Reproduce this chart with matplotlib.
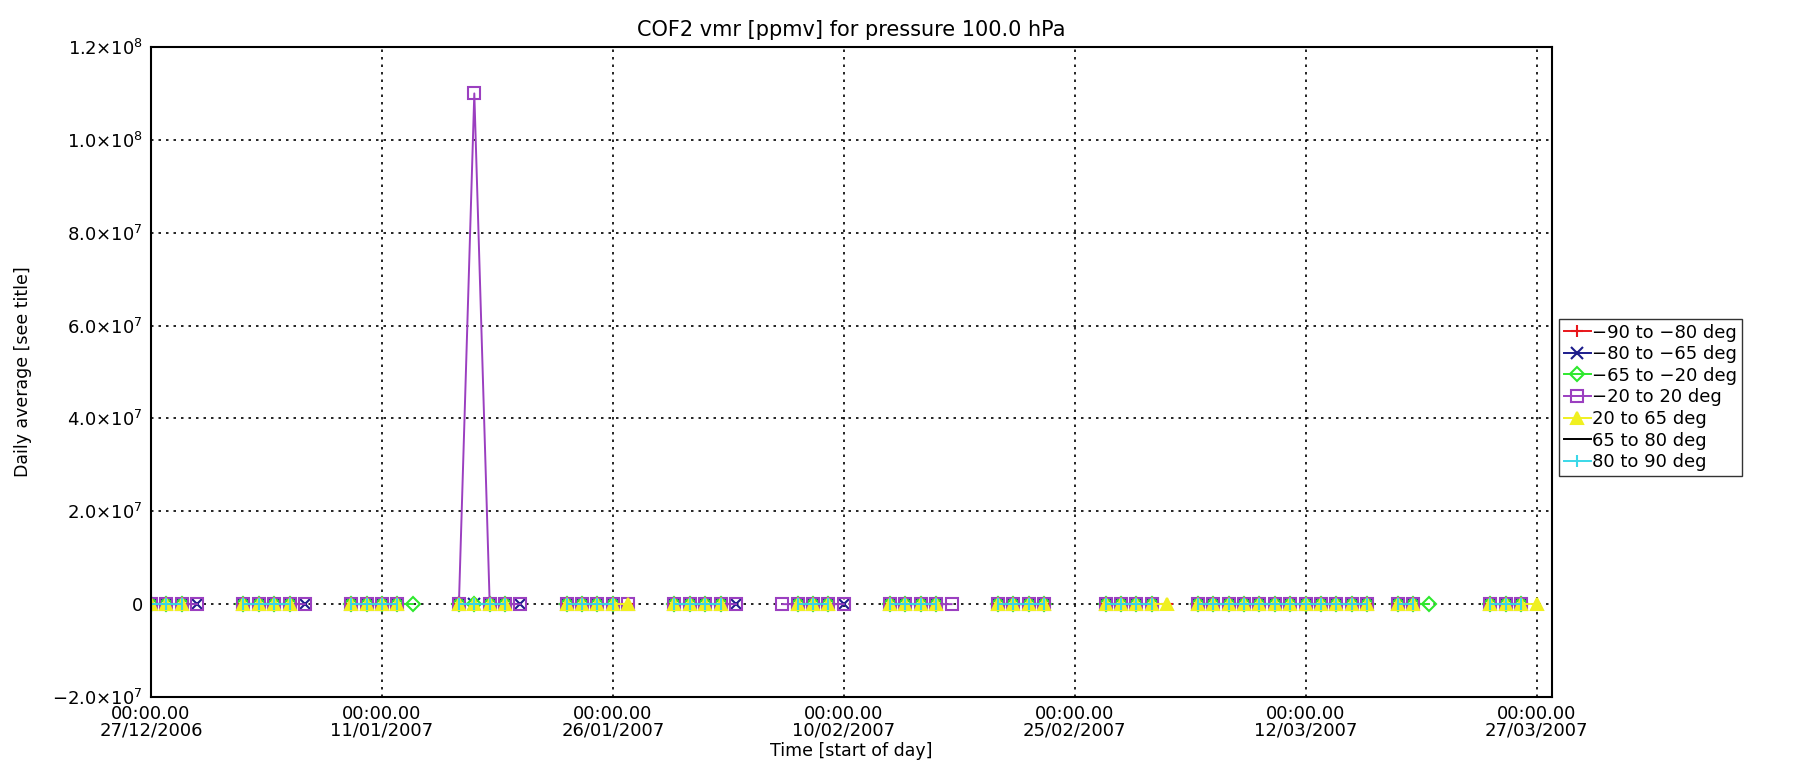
import datetime as dt
import numpy as np
import matplotlib
matplotlib.use("Agg")
import matplotlib.pyplot as plt
import matplotlib.dates as mdates
from matplotlib.ticker import FuncFormatter

# data: days counted from 27/12/2006, daily averages at 100 hPa
start = dt.datetime(2006, 12, 27)
n_days = 91
cluster_ranges = [(0, 2), (6, 9), (13, 16), (20, 23), (27, 30), (34, 37),
                  (42, 44), (48, 51), (55, 58), (62, 65), (68, 79),
                  (81, 82), (87, 89)]
labels = ["\u221290 to \u221280 deg", "\u221280 to \u221265 deg", "\u221265 to \u221220 deg",
          "\u221220 to 20 deg", "20 to 65 deg", "65 to 80 deg", "80 to 90 deg"]
colors = ["#e8161b", "#1c1c8c", "#2ee82e", "#9b3fc0", "#f0f020", "black", "#3ad8e8"]
markers = ["+", "x", "D", "s", "^", "", "|"]
msizes = [9, 9, 7, 9, 8, 9, 9]
# days at the end of some runs where only some bands have data
extra_days = [
    [31, 66],
    [3, 10, 24, 38, 45],
    [17, 83],
    [3, 10, 24, 31, 38, 41, 45, 52],
    [31, 66, 90],
    [],
    [],
]
peak_day = 21
peak_value = 1.1e8

common_days = []
for a, b in cluster_ranges:
    common_days += list(range(a, b + 1))

dates = [start + dt.timedelta(days=d) for d in range(n_days)]

fig = plt.figure(figsize=(18.04, 7.82), dpi=100)
ax = fig.add_axes([151 / 1804, 1 - 697 / 782, (1552 - 151) / 1804, (697 - 47) / 782])

for i, (lab, col, mk) in enumerate(zip(labels, colors, markers)):
    vals = np.full(n_days, np.nan)
    for d in common_days + extra_days[i]:
        vals[d] = 0.0
    if i == 3:
        vals[peak_day] = peak_value
    filled = col if mk == "^" else "none"
    ax.plot(dates, vals, color=col, marker=mk, markersize=msizes[i], lw=1.4,
            markerfacecolor=filled, markeredgewidth=1.5, label=lab)

ax.set_xlim(start, start + dt.timedelta(days=91.0))
ax.set_ylim(-2e7, 1.2e8)
ax.set_xticks([start + dt.timedelta(days=15 * k) for k in range(7)])
ax.xaxis.set_major_formatter(mdates.DateFormatter("00:00.00\n%d/%m/%Y"))
ax.set_yticks(np.arange(-2e7, 1.21e8, 2e7))


def sci(v, pos):
    if abs(v) < 1:
        return "0"
    e = int(np.floor(np.log10(abs(v))))
    m = v / 10 ** e
    return r"$%.1f{\times}10^{%d}$" % (m, e)


ax.yaxis.set_major_formatter(FuncFormatter(sci))
ax.tick_params(labelsize=13, length=0, pad=6)
for t in ax.get_xticklabels():
    t.set_linespacing(0.85)
ax.grid(True, color="black", linestyle=(0, (1.5, 3)), lw=1.2)
for s in ax.spines.values():
    s.set_linewidth(1.5)

ax.set_title("COF2 vmr [ppmv] for pressure 100.0 hPa", fontsize=15, pad=8)
ax.set_xlabel("Time [start of day]", fontsize=12.5, labelpad=2)
ax.set_ylabel("Daily average [see title]", fontsize=12.5, labelpad=14)

fig.legend(loc="upper left", bbox_to_anchor=(1559 / 1804, 1 - 319 / 782),
           fontsize=13, frameon=True, fancybox=False, edgecolor="black",
           handlelength=1.5, handletextpad=0.1, borderpad=0.25, labelspacing=0.2,
           borderaxespad=0)

fig.savefig("out.png", dpi=100)
